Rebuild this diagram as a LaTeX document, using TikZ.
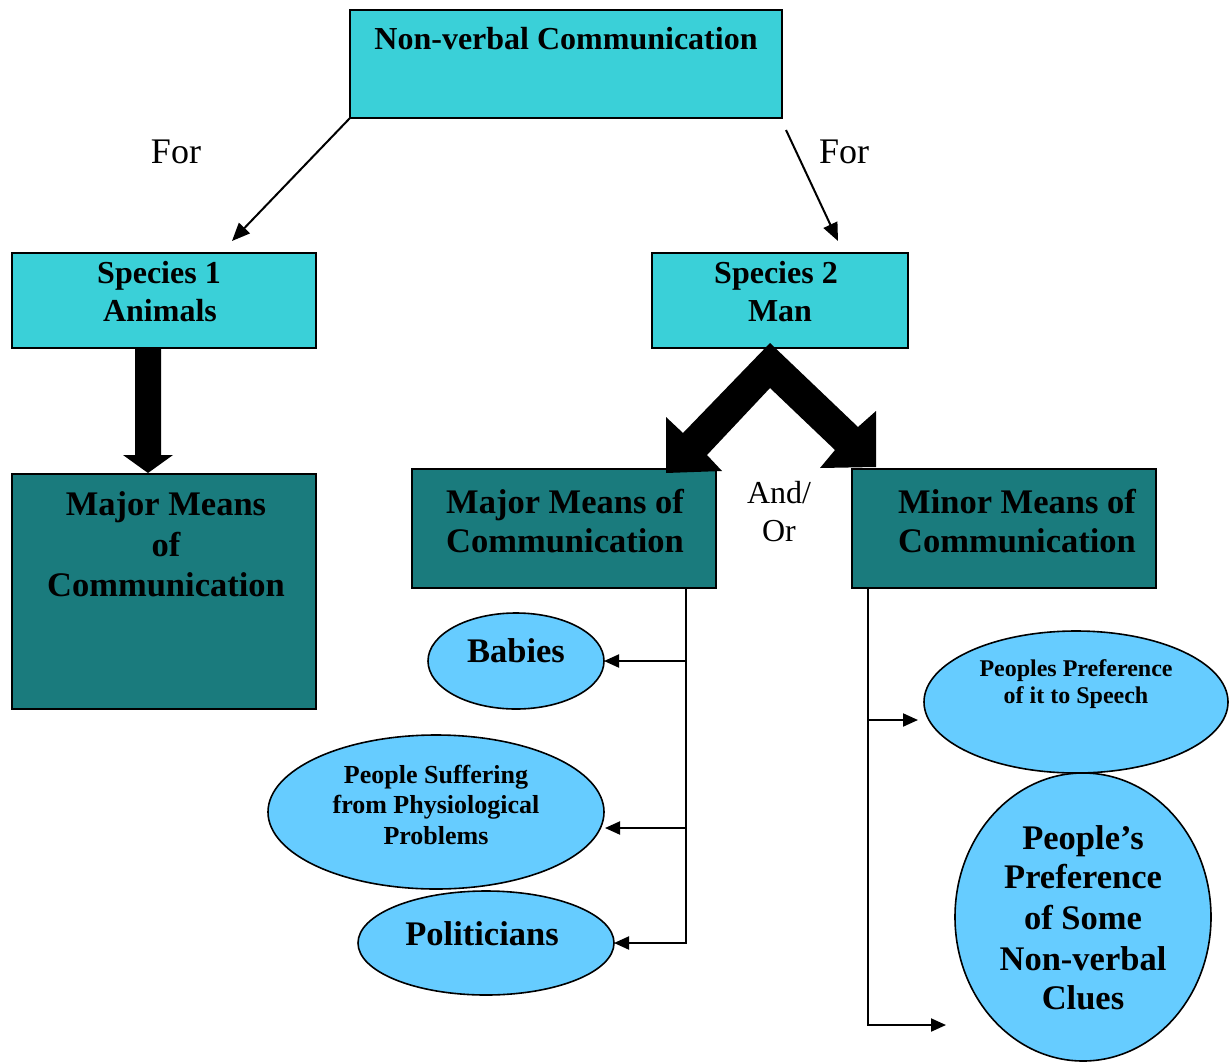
\documentclass[tikz,border=0pt]{standalone}
\usepackage{fontspec}
\setmainfont{Liberation Serif}
\usetikzlibrary{arrows.meta,shapes.geometric}
\definecolor{boxcyan}{HTML}{3AD0D8}
\definecolor{boxteal}{HTML}{1A7B7D}
\definecolor{ovalblue}{HTML}{66CCFF}
\begin{document}
\begin{tikzpicture}[x=1pt,y=-1pt,
  box/.style={draw=black, line width=2pt, rectangle, inner sep=0pt, outer sep=0pt},
  lightbox/.style={box, fill=boxcyan},
  darkbox/.style={box, fill=boxteal},
  oval/.style={draw=black, line width=1.6pt, ellipse, fill=ovalblue, inner sep=0pt, outer sep=0pt},
  txt/.style={anchor=base, inner sep=0pt, outer sep=0pt},
  headtxt/.style={txt, font=\bfseries\fontsize{32}{38}\selectfont},
  bigtxt/.style={txt, font=\bfseries\fontsize{34.5}{40}\selectfont},
  midtxt/.style={txt, font=\bfseries\fontsize{26}{30}\selectfont},
  smalltxt/.style={txt, font=\bfseries\fontsize{24}{28}\selectfont},
  plaintxt/.style={txt, font=\fontsize{32}{38}\selectfont},
  fortxt/.style={txt, font=\fontsize{36}{42}\selectfont},
  thinarrow/.style={draw=black, line width=2pt, -{Triangle[length=18pt,width=15pt]}},
  sidearrow/.style={draw=black, line width=2pt, -{Triangle[length=15pt,width=13pt]}},
  trunk/.style={draw=black, line width=2pt},
  blockarrow/.style={fill=black}
]
\useasboundingbox (0,0) rectangle (1230,1062);

% boxes
\node[lightbox, minimum width=432pt, minimum height=108pt] (top) at (566,64) {};
\node[lightbox, minimum width=304pt, minimum height=95pt] (sp1) at (164,300.5) {};
\node[lightbox, minimum width=256pt, minimum height=95pt] (sp2) at (780,300.5) {};
\node[darkbox, minimum width=304pt, minimum height=235pt] (mm1) at (164,591.5) {};
\node[darkbox, minimum width=304pt, minimum height=119pt] (mm2) at (564,528.5) {};
\node[darkbox, minimum width=304pt, minimum height=119pt] (mn) at (1004,528.5) {};

% ovals
\node[oval, minimum width=176pt, minimum height=96pt] (babies) at (516,661) {};
\node[oval, minimum width=336pt, minimum height=154pt] (physio) at (436,812) {};
\node[oval, minimum width=256pt, minimum height=104pt] (pol) at (486,943) {};
\node[oval, minimum width=304pt, minimum height=142pt] (pref) at (1076,702) {};
\node[oval, minimum width=256pt, minimum height=288pt] (clues) at (1083,917) {};

% texts
\node[headtxt] (ttop) at (566,50) {Non-verbal Communication};
\node[fortxt] (forL) at (176,163) {For};
\node[fortxt] (forR) at (844,163) {For};
\node[headtxt] (tsp1a) at (159,283) {Species 1};
\node[headtxt] (tsp1b) at (160,321) {Animals};
\node[headtxt] (tsp2a) at (776,283) {Species 2};
\node[headtxt] (tsp2b) at (780,321) {Man};
\node[bigtxt] (tmm1a) at (166,515) {Major Means};
\node[bigtxt] (tmm1b) at (166,556) {of};
\node[bigtxt] (tmm1c) at (166,596) {Communication};
\node[bigtxt] (tmm2a) at (565,513) {Major Means of};
\node[bigtxt] (tmm2b) at (565,552) {Communication};
\node[bigtxt] (tmna) at (1017,513) {Minor Means of};
\node[bigtxt] (tmnb) at (1017,552) {Communication};
\node[plaintxt] (andor1) at (779,503) {And/};
\node[plaintxt] (andor2) at (779,541) {Or};
\node[bigtxt] (tbab) at (516,662) {Babies};
\node[midtxt] (tph1) at (436,783) {People Suffering};
\node[midtxt] (tph2) at (436,813) {from Physiological};
\node[midtxt] (tph3) at (436,844) {Problems};
\node[bigtxt] (tpol) at (482,945) {Politicians};
\node[smalltxt] (tpr1) at (1076,676) {Peoples Preference};
\node[smalltxt] (tpr2) at (1076,703) {of it to Speech};
\node[bigtxt] (tcl1) at (1083,849) {People’s};
\node[bigtxt] (tcl2) at (1083,888) {Preference};
\node[bigtxt] (tcl3) at (1083,929) {of Some};
\node[bigtxt] (tcl4) at (1083,970) {Non-verbal};
\node[bigtxt] (tcl5) at (1083,1009) {Clues};

% thin arrows from the top box
\coordinate (forLend) at (232,241);
\coordinate (forRstart) at (786,130);
\coordinate (forRend) at (838,241);
\draw[thinarrow] (top.south west) -- (forLend);
\draw[thinarrow] (forRstart) -- (forRend);

% block arrow: animals
\fill[blockarrow] (135,348) -- (161,348) -- (161,455) -- (173,455) -- (148,473)
  -- (123,455) -- (135,455) -- cycle;

% block arrows: man, split in two directions
\fill[blockarrow] (770,343) -- (683,433) -- (666,417) -- (666,473) -- (722,471)
  -- (707,455) -- (770,388) -- (835,450) -- (820,468) -- (876,467) -- (876,411)
  -- (858,427) -- cycle;

% left branch
\coordinate (ltrunk) at (686,588);
\coordinate (physin) at (605,828);
\draw[sidearrow] (ltrunk) -- (ltrunk |- pol.east) -- (pol.east);
\draw[sidearrow] (ltrunk |- babies.east) -- (babies.east);
\draw[sidearrow] (ltrunk |- physin) -- (physin);

% right branch
\coordinate (rtrunk) at (868,588);
\coordinate (prefin) at (918,720);
\coordinate (cluesin) at (946,1025);
\draw[sidearrow] (rtrunk) -- (rtrunk |- cluesin) -- (cluesin);
\draw[sidearrow] (rtrunk |- prefin) -- (prefin);
\end{tikzpicture}
\end{document}
